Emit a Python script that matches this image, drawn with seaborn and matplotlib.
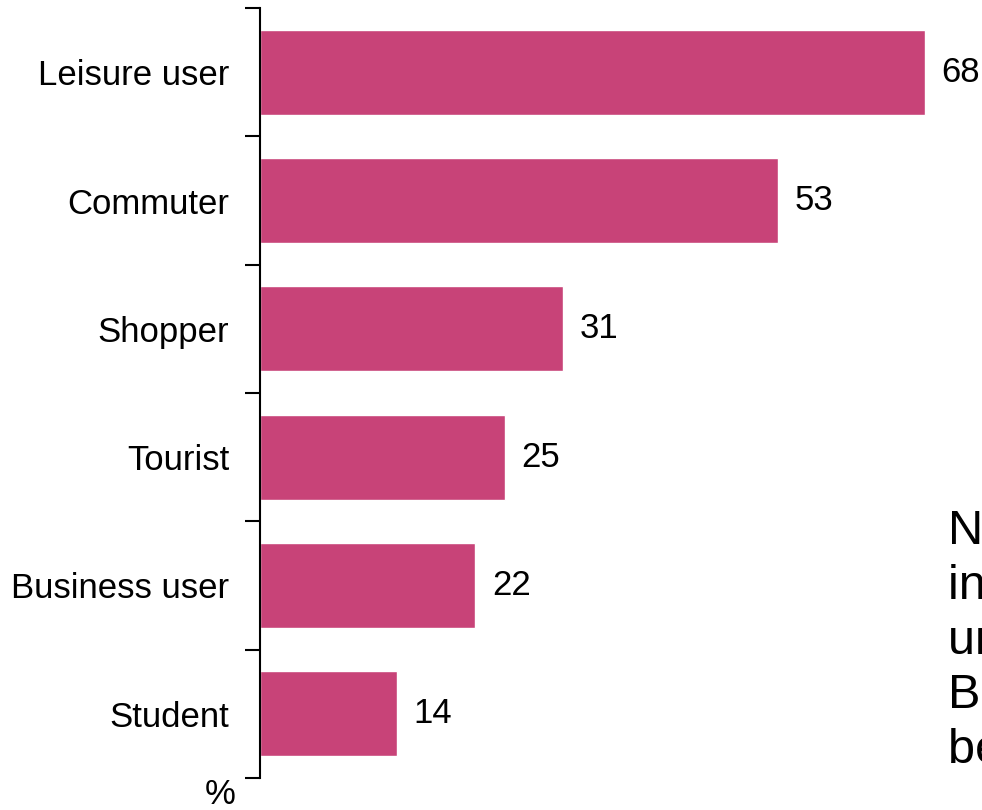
import numpy as np
import pandas as pd
import matplotlib
matplotlib.use("Agg")
import matplotlib.pyplot as plt
import seaborn as sns

categories = ["Leisure user", "Commuter", "Shopper", "Tourist", "Business user", "Student"]
values = [68, 53, 31, 25, 22, 14]

sns.set_style("white")
plt.rcParams['font.family'] = ['Liberation Sans', 'DejaVu Sans']
plt.rcParams['text.color'] = 'black'
plt.rcParams['ytick.color'] = 'black'

df = pd.DataFrame({"type": categories, "pct": values})

fig = plt.figure(figsize=(9.82, 8.10), dpi=100)
ax = fig.add_axes([260 / 982, 32 / 810, 700 / 982, 770 / 810])

sns.barplot(data=df, x="pct", y="type", orient="h", color="#C84378",
            saturation=1, width=0.66, ax=ax)

ax.set_xlim(0, 700 / 9.78)
ax.set_ylim(5.5, -0.5)

for i, v in enumerate(values):
    ax.text(v + 1.7, i, str(v), va="center", ha="left", fontsize=25, color="black")

# boundary ticks (major) and label positions (minor)
ax.set_yticks(np.arange(-0.5, len(categories), 1.0))
ax.set_yticklabels([])
ax.set_yticks(np.arange(len(categories)), minor=True)
ax.set_yticklabels(categories, minor=True, fontsize=25)
ax.tick_params(axis="y", which="major", length=11, width=1.5, direction="out", left=True)
ax.tick_params(axis="y", which="minor", length=0, pad=22)
ax.set_xticks([])
ax.set_xlabel("")
ax.set_ylabel("")

for s in ["top", "right", "bottom"]:
    ax.spines[s].set_visible(False)
ax.spines["left"].set_linewidth(1.5)
ax.spines["left"].set_color("black")

fig.text(220 / 982, 1 - 794 / 810, "%", ha="center", va="center", fontsize=25)

# side note, runs off the right edge as in the original slide
note = "Note: multiple\nin some cases\nurban users chose\nBase: all users\nbefore 2020"
fig.text(948 / 982, 1 - 509 / 810, note, ha="left", va="top", fontsize=35,
         linespacing=1.28)

fig.savefig("out.png", dpi=100)
